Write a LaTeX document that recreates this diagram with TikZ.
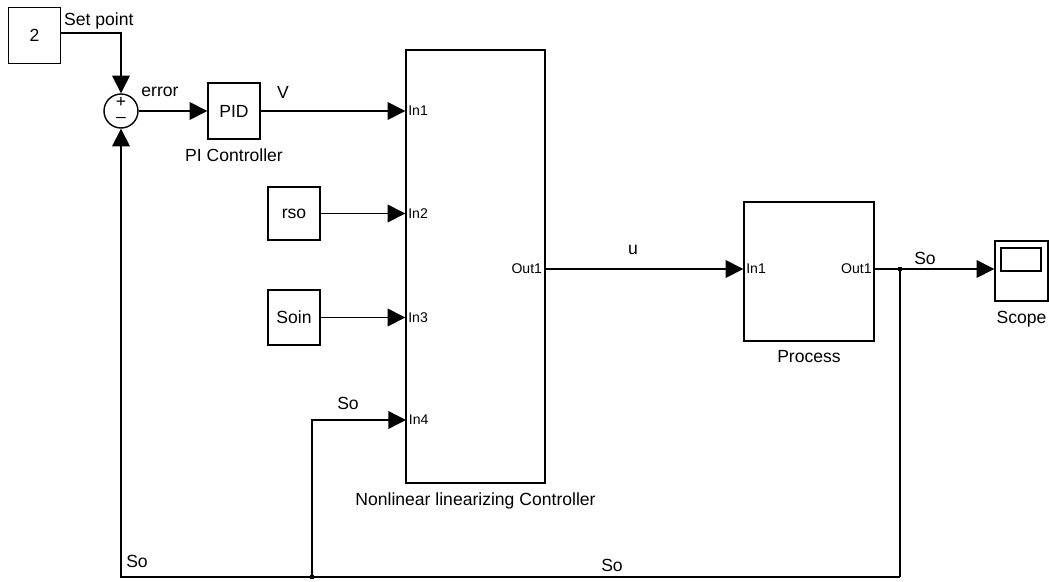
\documentclass[tikz,border=0pt]{standalone}
\usepackage{fontspec}
\setmainfont{Liberation Sans}
\usetikzlibrary{arrows.meta,calc}

\tikzset{
  blk/.style={draw, line width=0.8pt, inner sep=0pt, font=\fontsize{10}{12}\selectfont},
  port/.style={font=\fontsize{8}{10}\selectfont, inner sep=1.5pt},
  lbl/.style={font=\fontsize{10}{12}\selectfont, inner sep=1pt},
  wire/.style={line width=0.8pt},
  sig/.style={wire, -{Triangle[length=10pt,width=10pt]}},
  tap/.style={fill, inner sep=0pt, minimum size=2.5pt},
}

\begin{document}
\begin{tikzpicture}[x=0.02cm, y=-0.02cm]
    \useasboundingbox (0,0) rectangle (1049,582);

    % Blocks
    \node[blk, minimum width=1.04cm, minimum height=1.12cm] (setp) at (34.5,35.5) {2};
    \node[blk, circle, minimum size=0.68cm] (sum) at (121,111) {};
    \node[font=\fontsize{10}{10}\selectfont, inner sep=0pt] (plus) at (121,102) {+};
    \node[font=\fontsize{10}{10}\selectfont, inner sep=0pt] (minus) at (121,120) {--};
    \node[blk, minimum width=1.04cm, minimum height=1.12cm] (pid) at (234,111) {PID};
    \node[lbl, anchor=north] (pidlbl) at ($(pid.south)+(0,7)$) {PI Controller};
    \node[blk, minimum width=2.78cm, minimum height=8.66cm] (nlc) at (475.5,266.5) {};
    \node[lbl, anchor=north] (nlclbl) at ($(nlc.south)+(0,7)$) {Nonlinear linearizing Controller};
    \node[blk, minimum width=1.04cm, minimum height=1.06cm] (rso) at (294,213.5) {rso};
    \node[blk, minimum width=1.04cm, minimum height=1.10cm] (soin) at (294,317.5) {Soin};
    \node[blk, minimum width=2.6cm, minimum height=2.78cm] (proc) at (809,271.5) {};
    \node[lbl, anchor=north] (proclbl) at ($(proc.south)+(0,7)$) {Process};
    \node[blk, minimum width=1.06cm, minimum height=1.2cm] (scope) at (1021.5,271) {};
    \node[draw, line width=0.8pt, minimum width=0.8cm, minimum height=0.46cm, inner sep=0pt] (screen) at (1021,259.5) {};
    \node[lbl, anchor=north] (scopelbl) at ($(scope.south)+(0,7)$) {Scope};

    % Ports
    \coordinate (in1) at (nlc.west |- pid.east);
    \coordinate (in2) at (nlc.west |- rso.east);
    \coordinate (in3) at (nlc.west |- soin.east);
    \coordinate (in4) at (406,420);
    \coordinate (out1) at (545,269);
    \coordinate (pin1) at (proc.west |- out1);
    \coordinate (pout1) at (proc.east |- out1);
    \coordinate (sin) at (scope.west |- out1);
    \node[port, anchor=west] at (in1) {In1};
    \node[port, anchor=west] at (in2) {In2};
    \node[port, anchor=west] at (in3) {In3};
    \node[port, anchor=west] at (in4) {In4};
    \node[port, anchor=east] at (out1) {Out1};
    \node[port, anchor=west] at (pin1) {In1};
    \node[port, anchor=east] at (pout1) {Out1};

    % Branch points
    \coordinate (br) at (900,269);
    \coordinate (brlow) at (900,577);
    \coordinate (bot) at (312,577);
    \coordinate (spout) at (setp.east |- 0,33);
    \node[tap] at (br) {};
    \node[tap] at (bot) {};

    % Signals
    \draw[sig] (spout) -| (sum.north);
    \draw[sig] (sum.east) -- (pid.west);
    \draw[sig] (pid.east) -- (in1);
    \draw[sig] (rso.east) -- (in2);
    \draw[sig] (soin.east) -- (in3);
    \draw[sig] (out1) -- (pin1);
    \draw[sig] (pout1) -- (sin);
    \draw[wire] (br) -- (brlow);
    \draw[sig] (brlow) -| (sum.south);
    \draw[sig] (bot) |- (in4);

    % Signal names
    \node[lbl, anchor=west] at (62,21) {Set point};
    \node[lbl] at (160,92) {error};
    \node[lbl] at (283,92) {V};
    \node[lbl] at (633,250) {u};
    \node[lbl] at (925,258) {So};
    \node[lbl] at (348,403) {So};
    \node[lbl] at (137,561) {So};
    \node[lbl] at (612,565) {So};
\end{tikzpicture}
\end{document}
